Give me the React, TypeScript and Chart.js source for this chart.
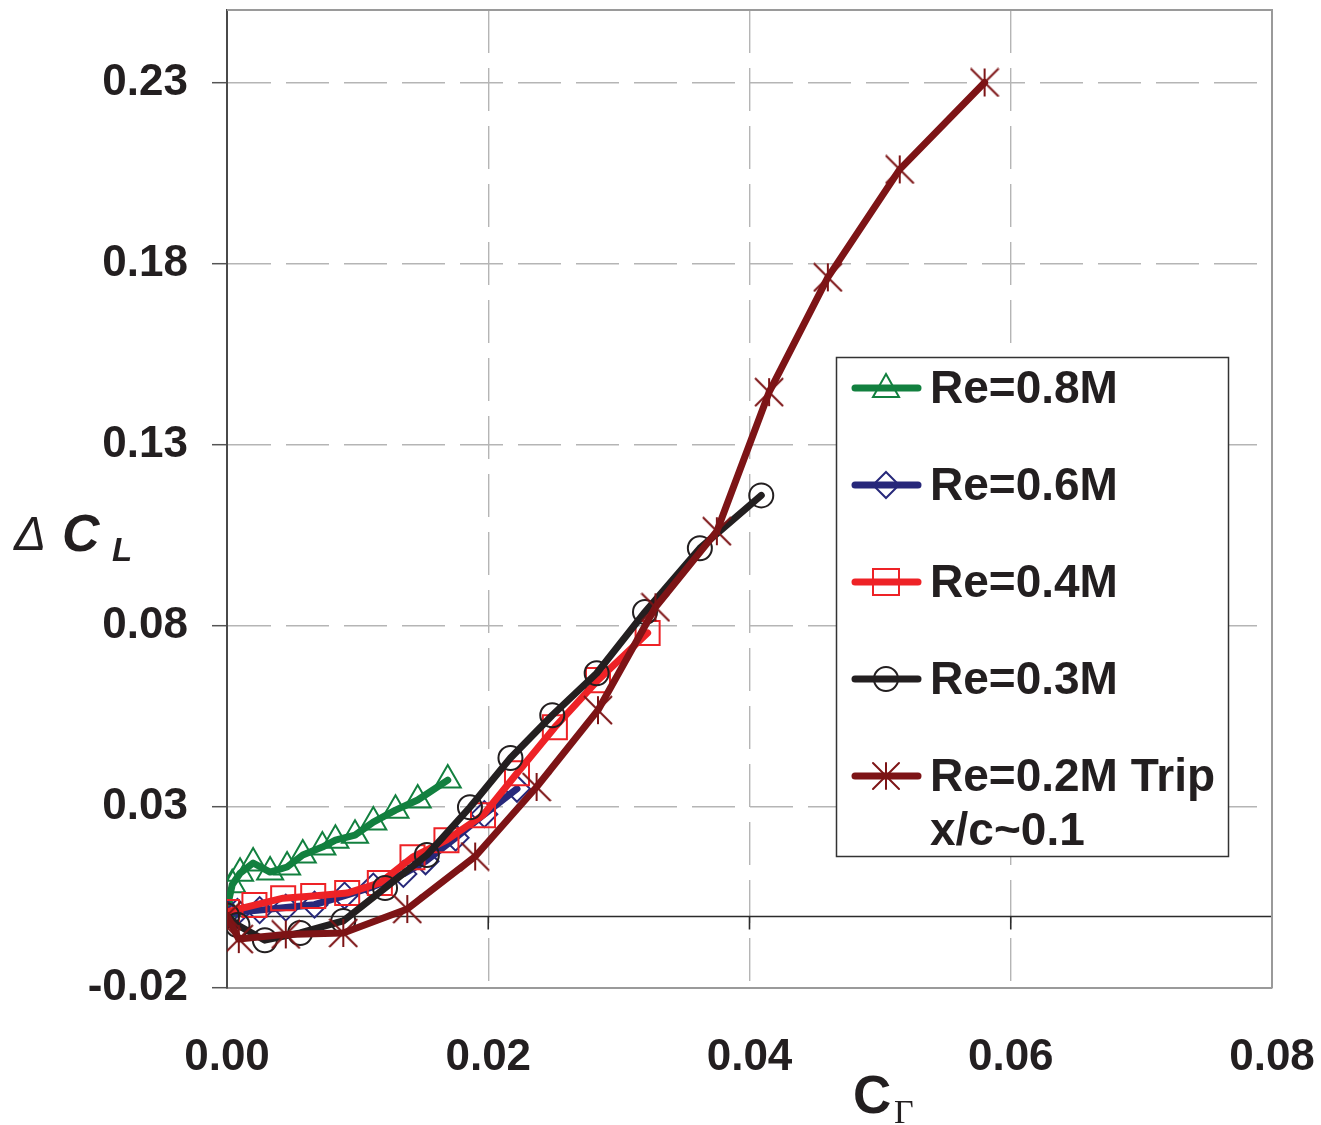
import React, { useEffect, useRef } from "react";
import { Chart, registerables, ScatterController } from "chart.js";

Chart.register(...registerables);

// Scatter controller that does not reserve extra layout room for marker overflow,
// so the plot frame can sit exactly where the reference has it.
class FramedScatter extends (ScatterController as any) {
  getMaxOverflow() {
    return 0;
  }
}
(FramedScatter as any).id = "framedScatter";
(FramedScatter as any).defaults = (ScatterController as any).defaults;
(FramedScatter as any).overrides = (ScatterController as any).overrides;
Chart.register(FramedScatter as any);

// ---- data ----
const X_TICKS = [0, 0.02, 0.04, 0.06, 0.08];
const Y_TICKS = [-0.02, 0.03, 0.08, 0.13, 0.18, 0.23];

const LABELS = ["Re=0.8M", "Re=0.6M", "Re=0.4M", "Re=0.3M", "Re=0.2M Trip\nx/c~0.1"];

const RE08_X = [0.0, 0.0004, 0.001, 0.002, 0.0033, 0.0046, 0.0058, 0.0073, 0.0083, 0.0098, 0.0112, 0.0129, 0.0146, 0.0169];
const RE08_Y = [0.002, 0.0085, 0.0117, 0.0145, 0.012, 0.0134, 0.0167, 0.0189, 0.0208, 0.0222, 0.0258, 0.0291, 0.0319, 0.0374];

const RE06_X = [0.0, 0.0008, 0.0025, 0.0045, 0.0067, 0.009, 0.0112, 0.0135, 0.0152, 0.0175, 0.0197, 0.0222];
const RE06_Y = [0.0005, 0.001, 0.0015, 0.0022, 0.003, 0.0055, 0.008, 0.0115, 0.015, 0.0215, 0.028, 0.035];

const RE04_X = [0.0, 0.0021, 0.0043, 0.0066, 0.0092, 0.0117, 0.0142, 0.0168, 0.0196, 0.0222, 0.0251, 0.0284, 0.0322];
const RE04_Y = [0.001, 0.0029, 0.0048, 0.0054, 0.0062, 0.009, 0.0161, 0.0208, 0.0277, 0.0393, 0.052, 0.065, 0.078];

const RE03_X = [0.0, 0.0008, 0.0029, 0.0056, 0.0089, 0.0121, 0.0153, 0.0186, 0.0217, 0.0249, 0.0283, 0.032, 0.0362, 0.0409];
const RE03_Y = [0.0, -0.0026, -0.0068, -0.0048, -0.0015, 0.0076, 0.0167, 0.0299, 0.0435, 0.0553, 0.0669, 0.0838, 0.1014, 0.116];

const RE02_X = [0.0, 0.0009, 0.0045, 0.0089, 0.0138, 0.019, 0.0237, 0.0284, 0.0328, 0.0375, 0.0415, 0.046, 0.0515, 0.058];
const RE02_Y = [0.0, -0.0065, -0.0052, -0.0048, 0.0018, 0.0163, 0.0355, 0.0567, 0.0851, 0.1061, 0.1445, 0.1762, 0.206, 0.23];

const SERIES_X = [RE08_X, RE06_X, RE04_X, RE03_X, RE02_X];
const SERIES_Y = [RE08_Y, RE06_Y, RE04_Y, RE03_Y, RE02_Y];

// ---- styles ----
const COLORS = ["#12803f", "#27287a", "#ee2226", "#231f20", "#7d1416"];
const MARKERS = ["triangle", "rectRot", "rect", "circle", "asterisk"];
const RADII = [15, 13, 17, 12, 13];
const FONT = "'Liberation Sans', Arial, sans-serif";
const TEXT = "#231f20";

function makeAsterisk(color: string, size: number) {
  const c = document.createElement("canvas");
  c.width = size;
  c.height = size;
  const g = c.getContext("2d")!;
  g.strokeStyle = color;
  g.lineWidth = 2;
  const h = size / 2;
  const r = size / 2 - 1;
  g.beginPath();
  g.moveTo(h, h - r);
  g.lineTo(h, h + r);
  g.moveTo(h - r, h - r);
  g.lineTo(h + r, h + r);
  g.moveTo(h + r, h - r);
  g.lineTo(h - r, h + r);
  g.stroke();
  return c;
}

function drawMarker(ctx: CanvasRenderingContext2D, kind: string, x: number, y: number, color: string) {
  ctx.save();
  ctx.strokeStyle = color;
  ctx.lineWidth = 2;
  ctx.beginPath();
  if (kind === "triangle") {
    ctx.moveTo(x, y - 14);
    ctx.lineTo(x + 13, y + 9);
    ctx.lineTo(x - 13, y + 9);
    ctx.closePath();
  } else if (kind === "rectRot") {
    ctx.moveTo(x, y - 13);
    ctx.lineTo(x + 13, y);
    ctx.lineTo(x, y + 13);
    ctx.lineTo(x - 13, y);
    ctx.closePath();
  } else if (kind === "rect") {
    ctx.rect(x - 13, y - 13, 26, 26);
  } else if (kind === "circle") {
    ctx.arc(x, y, 12, 0, Math.PI * 2);
  } else {
    const r = 13;
    ctx.moveTo(x, y - r);
    ctx.lineTo(x, y + r);
    ctx.moveTo(x - r, y - r);
    ctx.lineTo(x + r, y + r);
    ctx.moveTo(x + r, y - r);
    ctx.lineTo(x - r, y + r);
  }
  ctx.stroke();
  ctx.restore();
}

const overlayPlugin = {
  id: "overlay",
  beforeDatasetsDraw(chart: any) {
    const { ctx, chartArea: a, scales } = chart;
    const y0 = Math.round(scales.y.getPixelForValue(0)) + 0.5;
    ctx.save();
    // zero line
    ctx.strokeStyle = "#2b2b2b";
    ctx.lineWidth = 1.6;
    ctx.beginPath();
    ctx.moveTo(a.left, y0);
    ctx.lineTo(a.right, y0);
    ctx.stroke();
    // small ticks on zero line
    X_TICKS.forEach((v) => {
      if (v === 0) return;
      const px = scales.x.getPixelForValue(v);
      ctx.beginPath();
      ctx.moveTo(px, y0);
      ctx.lineTo(px, y0 + 13);
      ctx.stroke();
    });
    // top and right border
    ctx.strokeStyle = "#9a9a9a";
    ctx.lineWidth = 2;
    ctx.beginPath();
    ctx.moveTo(a.left, a.top);
    ctx.lineTo(a.right, a.top);
    ctx.lineTo(a.right, a.bottom);
    ctx.stroke();
    ctx.restore();
  },
  afterDraw(chart: any) {
    const { ctx } = chart;
    ctx.save();
    // legend
    const bx = 836, by = 357, bw = 392, bh = 499;
    ctx.fillStyle = "#ffffff";
    ctx.fillRect(bx, by, bw, bh);
    ctx.strokeStyle = "#333";
    ctx.lineWidth = 1.5;
    ctx.strokeRect(bx + 0.5, by + 0.5, bw, bh);
    chart.data.datasets.forEach((ds: any, i: number) => {
      const yy = by + 31 + 97 * i;
      ctx.strokeStyle = COLORS[i];
      ctx.lineWidth = 7;
      ctx.lineCap = "round";
      ctx.beginPath();
      ctx.moveTo(855, yy);
      ctx.lineTo(918, yy);
      ctx.stroke();
      drawMarker(ctx, MARKERS[i], 886, yy, COLORS[i]);
      ctx.fillStyle = TEXT;
      ctx.font = `bold 46px ${FONT}`;
      ctx.textBaseline = "middle";
      ctx.textAlign = "left";
      String(ds.label).split("\n").forEach((line: string, k: number) => {
        ctx.fillText(line, 930, yy + 2 + k * 54);
      });
    });
    // y title
    ctx.fillStyle = TEXT;
    ctx.textBaseline = "alphabetic";
    ctx.font = `italic 48px ${FONT}`;
    ctx.fillText("Δ", 14, 550);
    ctx.font = `italic bold 52px ${FONT}`;
    ctx.fillText("C", 62, 551);
    ctx.font = `italic bold 33px ${FONT}`;
    ctx.fillText("L", 112, 561);
    // x title
    ctx.font = `bold 53px ${FONT}`;
    ctx.fillText("C", 853, 1113);
    ctx.font = `34px 'Liberation Serif', serif`;
    ctx.fillText("Γ", 894, 1123);
    ctx.restore();
  },
};

export default function App() {
  const ref = useRef<HTMLCanvasElement | null>(null);

  useEffect(() => {
    if (!ref.current) return;
    const datasets = SERIES_X.map((xs, i) => ({
      label: LABELS[i],
      data: xs.map((x, k) => ({ x, y: SERIES_Y[i][k] })),
      showLine: true,
      borderColor: COLORS[i],
      borderWidth: 7,
      borderCapStyle: "round" as const,
      borderJoinStyle: "round" as const,
      pointStyle: MARKERS[i] === "asterisk" ? makeAsterisk(COLORS[i], 30) : MARKERS[i],
      pointRadius: RADII[i],
      pointBorderWidth: 2,
      pointBorderColor: COLORS[i],
      pointBackgroundColor: "rgba(0,0,0,0)",
      order: 4 - i,
      tension: 0,
    }));

    const chart = new Chart(ref.current, {
      type: "framedScatter",
      data: { datasets },
      plugins: [overlayPlugin],
      options: {
        animation: false,
        responsive: false,
        devicePixelRatio: 1,
        layout: { padding: { left: 0, top: 10, right: 49, bottom: 0 } },
        plugins: { legend: { display: false }, tooltip: { enabled: false } },
        scales: {
          x: {
            type: "linear",
            min: 0,
            max: 0.08,
            afterBuildTicks: (s: any) => {
              s.ticks = X_TICKS.map((v) => ({ value: v }));
            },
            afterFit: (s: any) => {
              s.height = 137;
              s.paddingLeft = 0;
              s.paddingRight = 0;
            },
            ticks: {
              callback: (v: any) => Number(v).toFixed(2),
              font: { family: FONT, size: 44, weight: "bold" },
              color: TEXT,
              padding: 43,
              maxRotation: 0,
              autoSkip: false,
            },
            grid: {
              color: (c: any) =>
                c.tick && (c.tick.value === 0 || c.tick.value === 0.08) ? "rgba(0,0,0,0)" : "#b5b5b5",
              lineWidth: 1.4,
              drawTicks: false,
            },
            border: { display: true, color: "#9a9a9a", width: 2, dash: [43, 15] },
          },
          y: {
            type: "linear",
            min: -0.02,
            max: 0.25,
            afterBuildTicks: (s: any) => {
              s.ticks = Y_TICKS.map((v) => ({ value: v }));
            },
            afterFit: (s: any) => {
              s.width = 227;
              s.paddingTop = 0;
              s.paddingBottom = 0;
            },
            ticks: {
              callback: (v: any) => Number(v).toFixed(2),
              font: { family: FONT, size: 44, weight: "bold" },
              color: TEXT,
              padding: 24,
              autoSkip: false,
            },
            grid: {
              color: (c: any) => (c.tick && c.tick.value === -0.02 ? "rgba(0,0,0,0)" : "#b5b5b5"),
              lineWidth: 1.4,
              drawTicks: true,
              tickLength: 15,
              tickColor: "#555",
              tickWidth: 1.5,
              tickBorderDash: [],
            },
            border: { display: true, color: "#4a4a4a", width: 2, dash: [43, 15] },
          },
        },
      },
    } as any);
    return () => chart.destroy();
  }, []);

  return (
    <div style={{ position: "absolute", left: 0, top: 0, width: 1321, height: 1125, background: "#fff" }}>
      <canvas ref={ref} width={1321} height={1125} style={{ display: "block" }} />
    </div>
  );
}
